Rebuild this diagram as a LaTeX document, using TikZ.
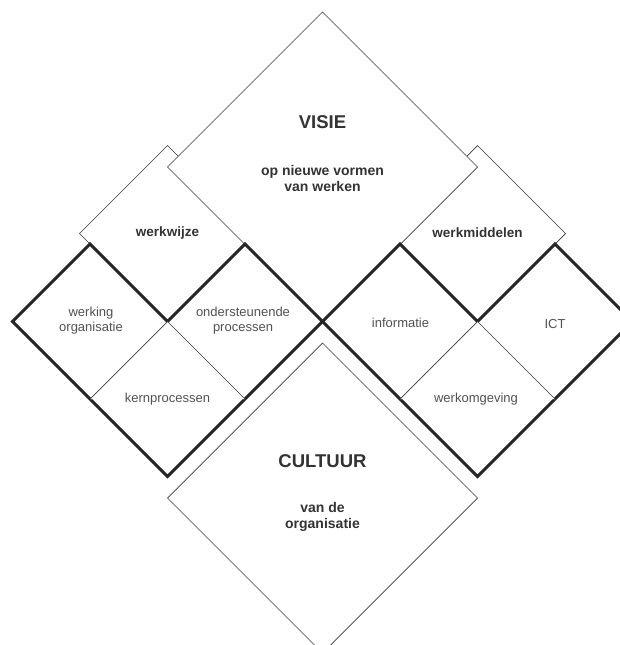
\documentclass[tikz,border=0pt]{standalone}
\usepackage{fontspec}
\setmainfont{Liberation Sans}
\definecolor{tekst}{HTML}{333333}
\definecolor{lijn}{HTML}{3A3A3A}
\newcommand{\ruit}[3][]{\draw[#1] (#2) +(-#3,0) -- +(0,-#3) -- +(#3,0) -- +(0,#3) -- cycle;}
\begin{document}
\begin{tikzpicture}[x=1pt,y=-1pt,
dun/.style={draw=lijn,line width=0.7pt,fill=white,line join=miter},
dik/.style={draw=black!85,line width=3pt,line join=miter,fill=white},
kop/.style={font=\fontsize{18.5}{21}\selectfont\bfseries,text=tekst},
sub/.style={font=\fontsize{14}{16.5}\selectfont\bfseries,text=tekst,align=center},
lbl/.style={font=\fontsize{13}{15}\selectfont,text=tekst!85,align=center}
]
\useasboundingbox (0,0) rectangle (620,645);
\def\R{155}
\def\q{77.5}
\def\w{88}
% werkwijze / werkmiddelen behind the rest
\ruit[dun]{167.5,233.5}{\w}
\ruit[dun]{477.5,233.5}{\w}
% visie
\ruit[dun]{322.5,167}{\R}
% left block
\draw[dik] (167.5,321.5) +(-2*\q,0) -- +(-\q,-\q) -- +(0,0) -- +(\q,-\q) -- +(2*\q,0) -- +(0,2*\q) -- cycle;
\draw[dun] (167.5,321.5) +(-\q,\q) -- +(0,0) -- +(\q,\q);
% right block
\draw[dik] (477.5,321.5) +(-2*\q,0) -- +(-\q,-\q) -- +(0,0) -- +(\q,-\q) -- +(2*\q,0) -- +(0,2*\q) -- cycle;
\draw[dun] (477.5,321.5) +(-\q,\q) -- +(0,0) -- +(\q,\q);
% cultuur
\ruit[dun]{322.5,498}{\R}

\node[kop] (visie) at (322.5,122.5) {VISIE};
\node[sub] (visie-sub) at (322.5,178.5) {op nieuwe vormen\\van werken};
\node[sub,font=\fontsize{13.5}{16}\selectfont\bfseries] (werkwijze) at (167.5,233) {werkwijze};
\node[sub,font=\fontsize{13.5}{16}\selectfont\bfseries] (werkmiddelen) at (477.5,233) {werkmiddelen};
\node[lbl] (werking) at (91,320.5) {werking\\organisatie};
\node[lbl] (ondersteunend) at (243,320.5) {ondersteunende\\processen};
\node[lbl] (kern) at (167.5,399) {kernprocessen};
\node[lbl] (informatie) at (400.5,323) {informatie};
\node[lbl] (ict) at (555,324) {ICT};
\node[lbl] (werkomgeving) at (476,399) {werkomgeving};
\node[kop] (cultuur) at (322.5,461.5) {CULTUUR};
\node[sub] (cultuur-sub) at (322.5,517) {van de\\organisatie};
\end{tikzpicture}
\end{document}
